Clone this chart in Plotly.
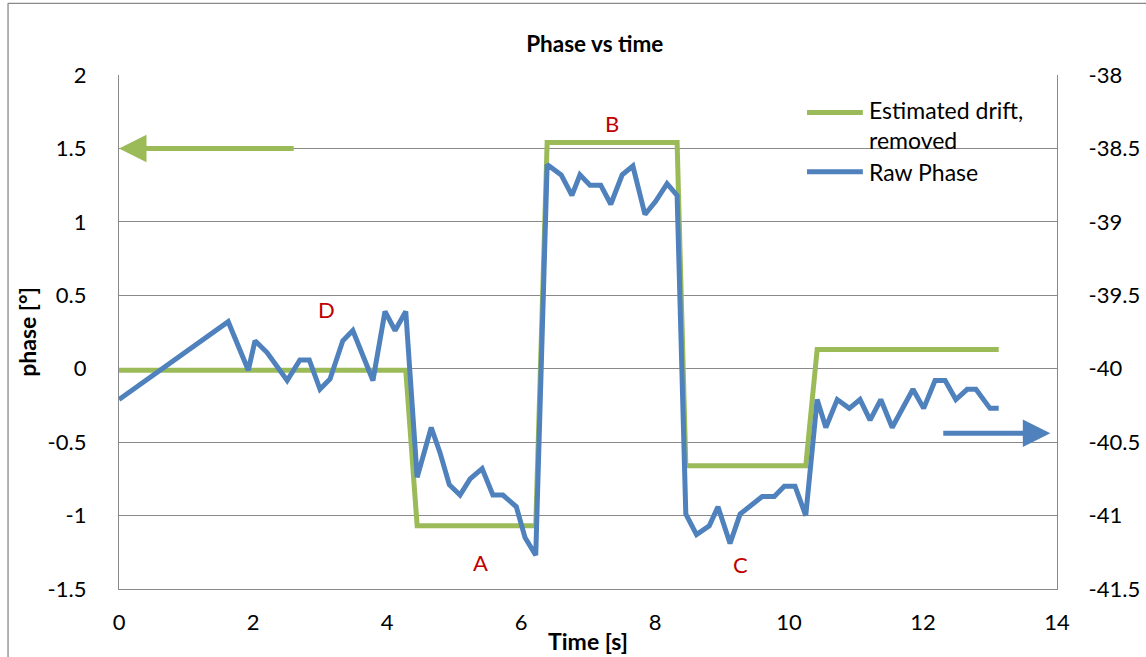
import plotly.graph_objects as go

# Sample times [s] and raw phase readings (right axis, degrees)
t_raw = [0, 1.63, 1.93, 2.03, 2.21, 2.51, 2.70, 2.84, 3.00, 3.15,
         3.34, 3.49, 3.79, 3.97, 4.12, 4.28, 4.45, 4.66, 4.79, 4.93,
         5.09, 5.24, 5.42, 5.58, 5.73, 5.93, 6.06, 6.22, 6.39, 6.60,
         6.76, 6.88, 7.03, 7.19, 7.34, 7.51, 7.67, 7.85, 8.01, 8.18,
         8.33, 8.46, 8.62, 8.81, 8.94, 9.12, 9.27, 9.42, 9.60, 9.78,
         9.93, 10.09, 10.25, 10.42, 10.55, 10.72, 10.90, 11.06, 11.21, 11.37,
         11.54, 11.85, 12.01, 12.18, 12.33, 12.49, 12.66, 12.79, 13.00, 13.13]
raw_phase = [-40.21, -39.68, -40.01, -39.81, -39.89, -40.08, -39.94, -39.94, -40.14, -40.07,
             -39.81, -39.74, -40.08, -39.61, -39.74, -39.61, -40.74, -40.40, -40.57, -40.79,
             -40.86, -40.75, -40.68, -40.86, -40.86, -40.94, -41.15, -41.27, -38.61, -38.68,
             -38.82, -38.68, -38.75, -38.75, -38.88, -38.68, -38.62, -38.95, -38.86, -38.74,
             -38.82, -40.99, -41.13, -41.07, -40.94, -41.19, -40.99, -40.94, -40.87, -40.87,
             -40.80, -40.80, -41.00, -40.21, -40.40, -40.21, -40.27, -40.21, -40.35, -40.21,
             -40.40, -40.14, -40.27, -40.08, -40.08, -40.21, -40.14, -40.14, -40.27, -40.27]

# Estimated drift (left axis, degrees)
t_drift = [0, 4.28, 4.45, 6.22, 6.39, 8.33, 8.46, 10.25, 10.42, 13.13]
drift = [-0.01, -0.01, -1.07, -1.07, 1.54, 1.54, -0.66, -0.66, 0.13, 0.13]

# Axis ticks
x_ticks = [0, 2, 4, 6, 8, 10, 12, 14]
y_ticks = [2, 1.5, 1, 0.5, 0, -0.5, -1, -1.5]
y_tick_text = ["2", "1.5", "1", "0.5", "0", "-0.5", "-1", "-1.5"]
y2_ticks = [-38, -38.5, -39, -39.5, -40, -40.5, -41, -41.5]
y2_tick_text = ["-38", "-38.5", "-39", "-39.5", "-40", "-40.5", "-41", "-41.5"]

# Segment labels
seg_labels = ["D", "A", "B", "C"]
seg_x = [3.1, 5.39, 7.36, 9.28]
seg_y = [0.40, -1.32, 1.67, -1.33]

# Legend entries
legend_names = ["Estimated drift,<br>removed", "Raw Phase"]

GREEN = "#9BBB59"
BLUE = "#4F81BD"
GRID = "#898989"
FONT = "Lato, 'Open Sans', sans-serif"

fig = go.Figure()
fig.add_trace(go.Scatter(
    x=t_drift, y=drift, mode="lines", name="Estimated drift, removed",
    line=dict(color=GREEN, width=5), yaxis="y", showlegend=False))
fig.add_trace(go.Scatter(
    x=t_raw, y=raw_phase, mode="lines", name="Raw Phase",
    line=dict(color=BLUE, width=5), yaxis="y2", showlegend=False))

for lab, lx, ly in zip(seg_labels, seg_x, seg_y):
    fig.add_annotation(x=lx, y=ly, xref="x", yref="y", text=lab, showarrow=False,
                       font=dict(color="#C00000", size=22, family=FONT))

# Arrows pointing to the axis each series belongs to
fig.add_annotation(x=0, y=1.5, ax=2.63, ay=1.5, xref="x", yref="y", axref="x", ayref="y",
                   text="", showarrow=True, arrowhead=2, arrowwidth=5, arrowsize=1.1,
                   arrowcolor=GREEN)
fig.add_annotation(x=13.9, y=-40.44, ax=12.28, ay=-40.44, xref="x", yref="y2",
                   axref="x", ayref="y2", text="", showarrow=True, arrowhead=2,
                   arrowwidth=5, arrowsize=1.1, arrowcolor=BLUE)

# Legend box: white panel over the gridlines, sample lines and labels
fig.add_shape(type="rect", xref="paper", yref="paper", x0=0.724, x1=0.965,
              y0=0.767, y1=0.962, fillcolor="white", line=dict(width=0),
              layer="between")
for color, ly in zip([GREEN, BLUE], [0.927, 0.812]):
    fig.add_shape(type="line", xref="paper", yref="paper", x0=0.7335, x1=0.793,
                  y0=ly, y1=ly, line=dict(color=color, width=5))
for name, ly in zip(legend_names, [0.902, 0.812]):
    fig.add_annotation(x=0.7975, y=ly, xref="paper", yref="paper", text=name,
                       showarrow=False, xanchor="left", yanchor="middle", align="left",
                       font=dict(size=23, family=FONT, color="black"))

# Chart frame
fig.add_shape(type="line", xref="paper", yref="paper", x0=-0.1183, x1=1.2,
              y0=1.1395, y1=1.1395, line=dict(color=GRID, width=1.3))
fig.add_shape(type="line", xref="paper", yref="paper", x0=-0.1183, x1=-0.1183,
              y0=-0.3, y1=1.1395, line=dict(color=GRID, width=1.3))

fig.update_layout(
    width=1146, height=657,
    margin=dict(l=119, r=89, t=75, b=68, autoexpand=False),
    paper_bgcolor="white", plot_bgcolor="white",
    font=dict(family=FONT, size=22, color="black"),
    title=dict(text="<b>Phase vs time</b>", x=0.519, xanchor="center",
               y=1 - 44 / 657, yanchor="middle", font=dict(size=22.5)),
    showlegend=False,
    xaxis=dict(range=[0, 14], tickvals=x_ticks, showgrid=False, zeroline=False,
               showline=True, linecolor=GRID, linewidth=1.3, ticks="",
               automargin=False, ticklabelstandoff=13,
               title=dict(text="<b>Time [s]</b>", standoff=0, font=dict(size=23))),
    yaxis=dict(range=[-1.5, 2], tickvals=y_ticks, ticktext=y_tick_text,
               showgrid=True, gridcolor=GRID, gridwidth=1.3, zeroline=False,
               showline=True, linecolor=GRID, linewidth=1.3, ticks="",
               automargin=False, ticklabelstandoff=27,
               title=dict(text="<b>phase [°]</b>", standoff=4, font=dict(size=23))),
    yaxis2=dict(range=[-41.5, -38], tickvals=y2_ticks, ticktext=y2_tick_text,
                overlaying="y", side="right", showgrid=False, zeroline=False,
                showline=True, linecolor=GRID, linewidth=1.3, ticks="",
                automargin=False, ticklabelstandoff=26),
)

fig.write_html("out.html")
